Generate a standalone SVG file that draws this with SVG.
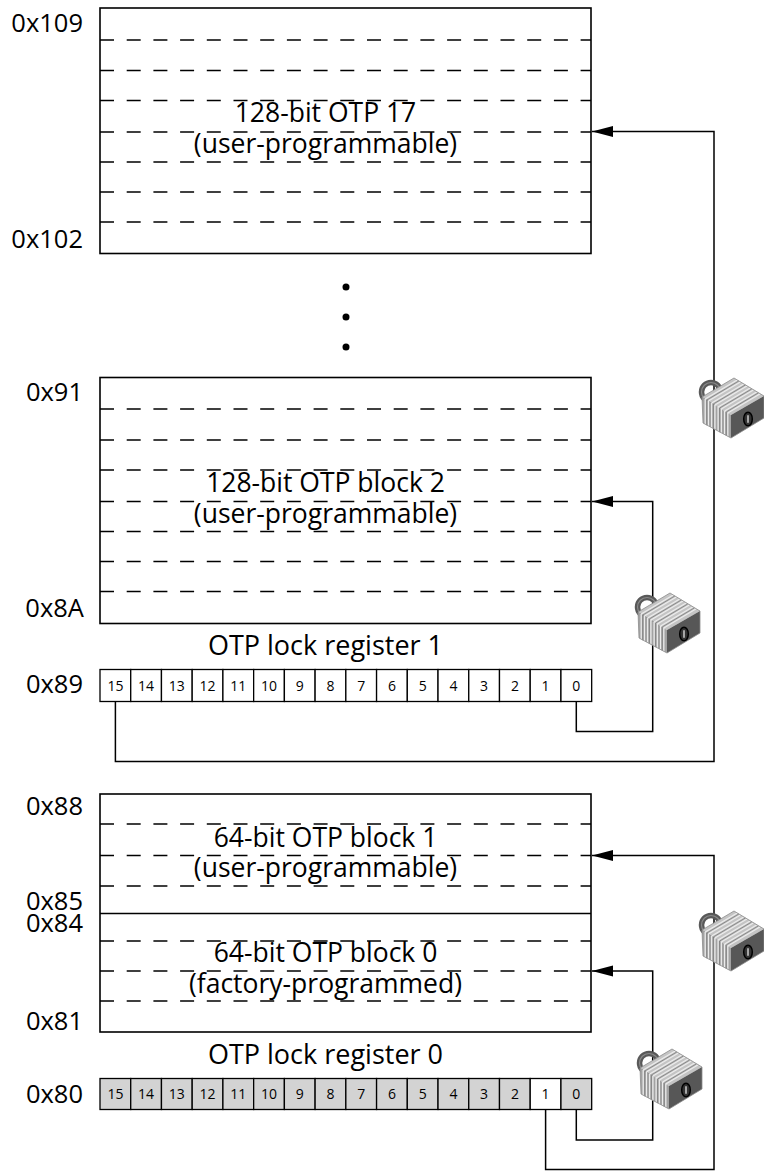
<svg xmlns="http://www.w3.org/2000/svg" width="764" height="1171" viewBox="0 0 764 1171">
<style>
text{font-family:"Open Sans","Noto Sans",sans-serif;fill:#000}
.addr{font-size:25.5px;text-anchor:end}
.lbl{font-size:26.5px;text-anchor:middle}
.reg{font-size:27px;text-anchor:middle}
.bit{font-size:14px;text-anchor:middle}
.box{fill:#fff;stroke:#000;stroke-width:1.6}
.dash{stroke:#000;stroke-width:1.5;stroke-dasharray:14 12.7;fill:none}
.solid{stroke:#000;stroke-width:1.6;fill:none}
.cell{fill:#fff;stroke:#000;stroke-width:1.3}
.cellg{fill:#d3d3d3;stroke:#000;stroke-width:1.3}
.conn{fill:none;stroke:#000;stroke-width:1.5}
</style>
<defs>
<marker id="arr" markerUnits="userSpaceOnUse" markerWidth="22" markerHeight="12" refX="21" refY="5.5" orient="auto">
<path d="M0,0 L21,5.5 L0,11 z" fill="#000"/>
</marker>
<g id="lock">
<circle cx="14" cy="15" r="9.5" fill="none" stroke="#595959" stroke-width="5.5"/>
<circle cx="14" cy="15" r="9.5" fill="none" stroke="#8a8a8a" stroke-width="1.2"/>
<polygon points="5,20 37,1 67,19 34,38" fill="#c4c4c4"/>
<polygon points="5,20 34,38 34,61 6,46" fill="#a2a2a2"/>
<polygon points="34,38 67,19 67,41 34,61" fill="#575757"/>
<g stroke="#ececec" stroke-width="1.3">
<line x1="8.2" y1="22" x2="40.2" y2="3"/><line x1="11.4" y1="24" x2="43.4" y2="5"/>
<line x1="14.7" y1="26" x2="46.7" y2="7"/><line x1="17.9" y1="28" x2="49.9" y2="9"/>
<line x1="21.1" y1="30" x2="53.1" y2="11"/><line x1="24.3" y1="32" x2="56.3" y2="13"/>
<line x1="27.6" y1="34" x2="59.6" y2="15"/><line x1="30.8" y1="36" x2="62.8" y2="17"/>
<line x1="8.2" y1="22" x2="8.2" y2="47.5"/><line x1="11.4" y1="24" x2="11.4" y2="49.2"/>
<line x1="14.7" y1="26" x2="14.7" y2="51"/><line x1="17.9" y1="28" x2="17.9" y2="52.6"/>
<line x1="21.1" y1="30" x2="21.1" y2="54.3"/><line x1="24.3" y1="32" x2="24.3" y2="56"/>
<line x1="27.6" y1="34" x2="27.6" y2="57.7"/><line x1="30.8" y1="36" x2="30.8" y2="59.4"/>
</g>
<g stroke="#7a7a7a" stroke-width="0.8">
<line x1="9.8" y1="23" x2="41.8" y2="4"/><line x1="16.3" y1="27" x2="48.3" y2="8"/>
<line x1="22.7" y1="31" x2="54.7" y2="12"/><line x1="29.2" y1="35" x2="61.2" y2="16"/>
<line x1="9.8" y1="23" x2="9.8" y2="48.3"/><line x1="16.3" y1="27" x2="16.3" y2="51.8"/>
<line x1="22.7" y1="31" x2="22.7" y2="55.2"/><line x1="29.2" y1="35" x2="29.2" y2="58.6"/>
</g>
<polygon points="5,20 37,1 67,19 67,41 34,61 6,46" fill="none" stroke="#8c8c8c" stroke-width="0.8"/>
<ellipse cx="51" cy="42" rx="4.3" ry="6.8" fill="#333" stroke="#000" stroke-width="1.5"/>
<line x1="51" y1="38.3" x2="51" y2="45.7" stroke="#bdbdbd" stroke-width="1.7"/>
</g>
</defs>

<g id="block17">
<rect class="box" x="100" y="8" width="491" height="245.5"/>
<path class="dash" d="M100,40H591M100,70.5H591M100,100.5H591M100,132H591M100,162H591M100,192H591M100,222H591"/>
<text class="lbl" x="325.5" y="121.5">128-bit OTP 17</text>
<text class="lbl" x="325.5" y="152.5">(user-programmable)</text>
<text class="addr" x="83" y="31.5">0x109</text>
<text class="addr" x="83" y="248">0x102</text>
</g>

<g id="ellipsis">
<circle cx="346" cy="287" r="3.5"/>
<circle cx="346" cy="317" r="3.5"/>
<circle cx="346" cy="347" r="3.5"/>
</g>

<g id="block2">
<rect class="box" x="100" y="377.5" width="491" height="246"/>
<path class="dash" d="M100,409H591M100,440H591M100,470H591M100,501.5H591M100,531.5H591M100,561.5H591M100,591.5H591"/>
<text class="lbl" x="325.5" y="491.5">128-bit OTP block 2</text>
<text class="lbl" x="325.5" y="522.5">(user-programmable)</text>
<text class="addr" x="83" y="400.5">0x91</text>
<text class="addr" x="84" y="616.5">0x8A</text>
</g>

<g id="lockreg1">
<text class="reg" x="325.5" y="654.5">OTP lock register 1</text>
<text class="addr" x="83" y="693">0x89</text>
<g class="cell">
<rect x="100" y="669.5" width="30.73" height="32"/><rect x="130.73" y="669.5" width="30.73" height="32"/>
<rect x="161.46" y="669.5" width="30.73" height="32"/><rect x="192.19" y="669.5" width="30.73" height="32"/>
<rect x="222.92" y="669.5" width="30.73" height="32"/><rect x="253.65" y="669.5" width="30.73" height="32"/>
<rect x="284.38" y="669.5" width="30.73" height="32"/><rect x="315.11" y="669.5" width="30.73" height="32"/>
<rect x="345.84" y="669.5" width="30.73" height="32"/><rect x="376.57" y="669.5" width="30.73" height="32"/>
<rect x="407.3" y="669.5" width="30.73" height="32"/><rect x="438.03" y="669.5" width="30.73" height="32"/>
<rect x="468.76" y="669.5" width="30.73" height="32"/><rect x="499.49" y="669.5" width="30.73" height="32"/>
<rect x="530.22" y="669.5" width="30.73" height="32"/><rect x="560.95" y="669.5" width="30.73" height="32"/>
</g>
<g>
<text class="bit" x="115.4" y="690.5">15</text><text class="bit" x="146.1" y="690.5">14</text>
<text class="bit" x="176.8" y="690.5">13</text><text class="bit" x="207.6" y="690.5">12</text>
<text class="bit" x="238.3" y="690.5">11</text><text class="bit" x="269" y="690.5">10</text>
<text class="bit" x="299.7" y="690.5">9</text><text class="bit" x="330.5" y="690.5">8</text>
<text class="bit" x="361.2" y="690.5">7</text><text class="bit" x="391.9" y="690.5">6</text>
<text class="bit" x="422.7" y="690.5">5</text><text class="bit" x="453.4" y="690.5">4</text>
<text class="bit" x="484.1" y="690.5">3</text><text class="bit" x="514.9" y="690.5">2</text>
<text class="bit" x="545.6" y="690.5">1</text><text class="bit" x="576.3" y="690.5">0</text>
</g>
</g>

<g id="block1and0">
<rect class="box" x="100" y="794" width="491" height="238"/>
<path class="solid" d="M100,913.5H591"/>
<path class="dash" d="M100,824H591M100,855.5H591M100,886H591M100,941H591M100,971H591M100,1001H591"/>
<text class="lbl" x="325.5" y="846.5">64-bit OTP block 1</text>
<text class="lbl" x="325.5" y="877">(user-programmable)</text>
<text class="lbl" x="325.5" y="962">64-bit OTP block 0</text>
<text class="lbl" x="325.5" y="992.5">(factory-programmed)</text>
<text class="addr" x="83" y="910">0x85</text>
<text class="addr" x="83" y="815">0x88</text>
<text class="addr" x="83" y="932">0x84</text>
<text class="addr" x="83" y="1030">0x81</text>
</g>

<g id="lockreg0">
<text class="reg" x="325.5" y="1063.5">OTP lock register 0</text>
<text class="addr" x="83" y="1103">0x80</text>
<g class="cellg">
<rect x="100" y="1078.5" width="30.73" height="31"/><rect x="130.73" y="1078.5" width="30.73" height="31"/>
<rect x="161.46" y="1078.5" width="30.73" height="31"/><rect x="192.19" y="1078.5" width="30.73" height="31"/>
<rect x="222.92" y="1078.5" width="30.73" height="31"/><rect x="253.65" y="1078.5" width="30.73" height="31"/>
<rect x="284.38" y="1078.5" width="30.73" height="31"/><rect x="315.11" y="1078.5" width="30.73" height="31"/>
<rect x="345.84" y="1078.5" width="30.73" height="31"/><rect x="376.57" y="1078.5" width="30.73" height="31"/>
<rect x="407.3" y="1078.5" width="30.73" height="31"/><rect x="438.03" y="1078.5" width="30.73" height="31"/>
<rect x="468.76" y="1078.5" width="30.73" height="31"/><rect x="499.49" y="1078.5" width="30.73" height="31"/>
<rect class="cell" x="530.22" y="1078.5" width="30.73" height="31"/><rect x="560.95" y="1078.5" width="30.73" height="31"/>
</g>
<g>
<text class="bit" x="115.4" y="1099">15</text><text class="bit" x="146.1" y="1099">14</text>
<text class="bit" x="176.8" y="1099">13</text><text class="bit" x="207.6" y="1099">12</text>
<text class="bit" x="238.3" y="1099">11</text><text class="bit" x="269" y="1099">10</text>
<text class="bit" x="299.7" y="1099">9</text><text class="bit" x="330.5" y="1099">8</text>
<text class="bit" x="361.2" y="1099">7</text><text class="bit" x="391.9" y="1099">6</text>
<text class="bit" x="422.7" y="1099">5</text><text class="bit" x="453.4" y="1099">4</text>
<text class="bit" x="484.1" y="1099">3</text><text class="bit" x="514.9" y="1099">2</text>
<text class="bit" x="545.6" y="1099">1</text><text class="bit" x="576.3" y="1099">0</text>
</g>
</g>

<g id="connectors">
<path class="conn" marker-end="url(#arr)" d="M115.4,701.5V761.5H714V131.5H592"/>
<path class="conn" marker-end="url(#arr)" d="M576.3,701.5V731.5H652.7V501.5H592"/>
<path class="conn" marker-end="url(#arr)" d="M545.6,1109.5V1169.5H714V855.5H592"/>
<path class="conn" marker-end="url(#arr)" d="M576.3,1109.5V1140H652.7V971H592"/>
</g>

<g id="locks">
<use href="#lock" transform="translate(697,377)"/>
<use href="#lock" transform="translate(633,592)"/>
<use href="#lock" transform="translate(697,910)"/>
<use href="#lock" transform="translate(635,1048)"/>
</g>
</svg>
